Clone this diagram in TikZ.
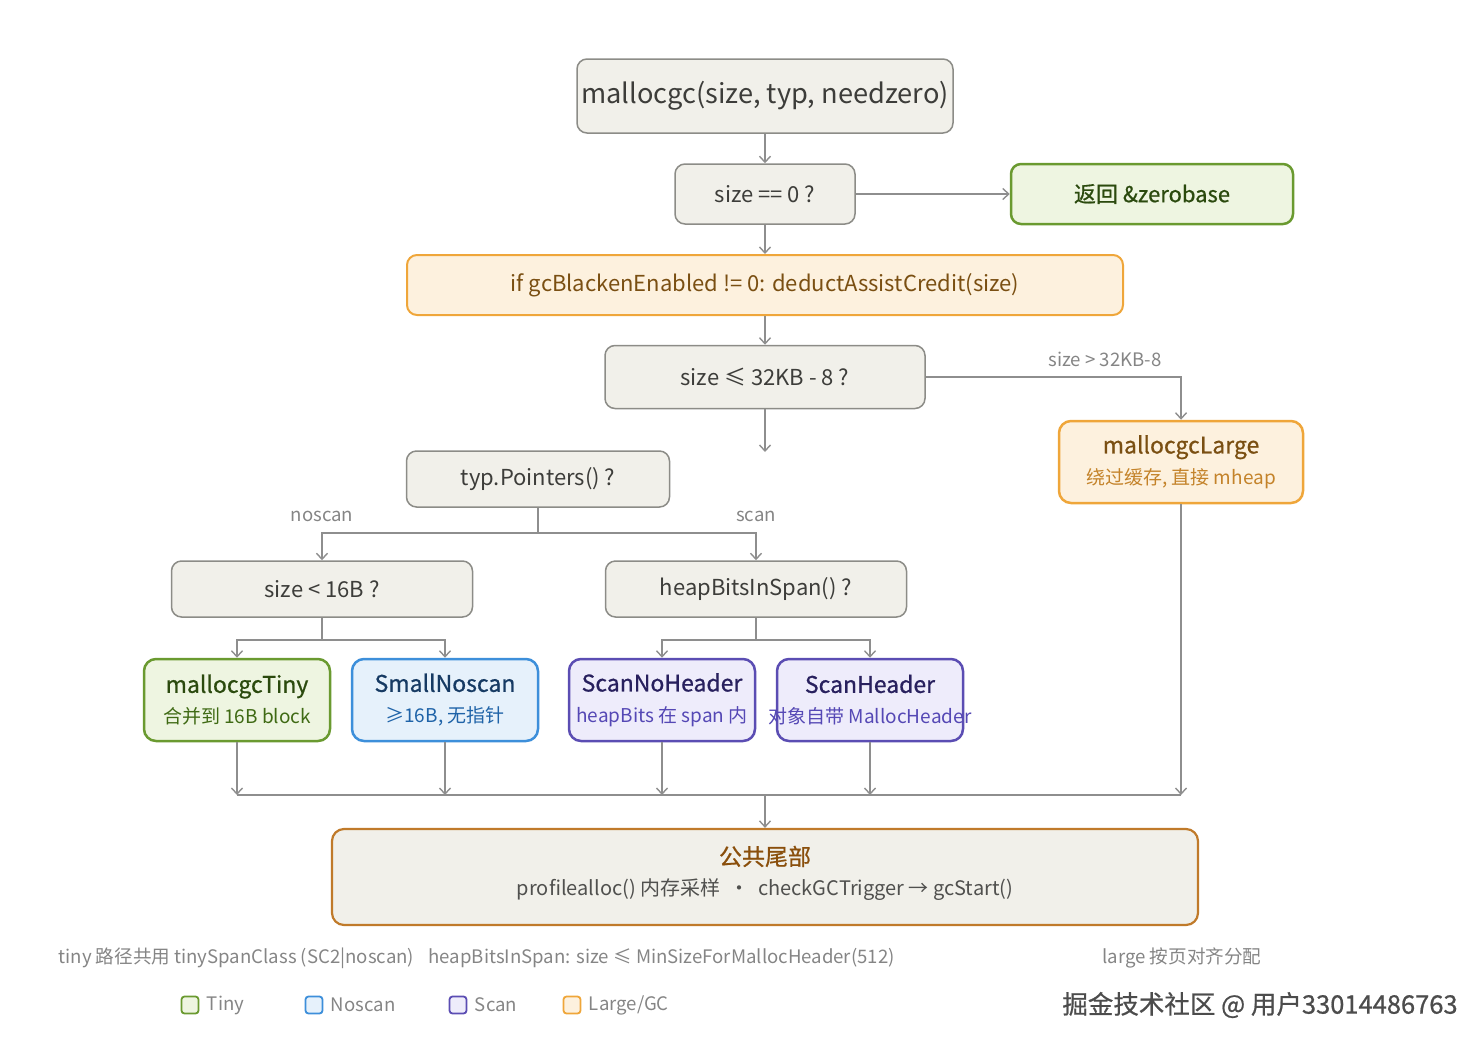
\documentclass[tikz,border=0pt]{standalone}
\usepackage{fontspec}
\setmainfont{Noto Sans CJK SC}
\newfontfamily\medfont{Noto Sans CJK SC}[FakeBold=0.7]
\usetikzlibrary{arrows.meta}

\definecolor{grayFill}{HTML}{F1F0EA}
\definecolor{grayLine}{HTML}{8C8C87}
\definecolor{grayText}{HTML}{3D3D3A}
\definecolor{connGray}{HTML}{8E8E8E}
\definecolor{noteGray}{HTML}{858585}
\definecolor{orangeFill}{HTML}{FDF1DE}
\definecolor{orangeLine}{HTML}{EFA63A}
\definecolor{orangeText}{HTML}{7A4F12}
\definecolor{orangeSub}{HTML}{C4832A}
\definecolor{greenFill}{HTML}{EEF5E1}
\definecolor{greenLine}{HTML}{6A9A30}
\definecolor{greenText}{HTML}{2B4A0E}
\definecolor{greenSub}{HTML}{3F6A14}
\definecolor{blueFill}{HTML}{E6F1FB}
\definecolor{blueLine}{HTML}{3D8FDA}
\definecolor{blueText}{HTML}{163A63}
\definecolor{blueSub}{HTML}{1F63A8}
\definecolor{purpleFill}{HTML}{EEECFB}
\definecolor{purpleLine}{HTML}{5B4DB3}
\definecolor{purpleText}{HTML}{28205E}
\definecolor{purpleSub}{HTML}{5548B5}
\definecolor{tailLine}{HTML}{C07A2A}
\definecolor{tailText}{HTML}{8A4F0C}

\tikzset{
  box/.style={draw=grayLine, fill=grayFill, rounded corners=10pt, line width=1.5pt,
    inner sep=0pt, text=grayText, font=\fontsize{22}{26}\selectfont},
  leaf/.style={rounded corners=12pt, line width=2.5pt, inner sep=0pt, align=center,
    minimum width=186pt, minimum height=82pt, font=\fontsize{19}{31}\selectfont},
  conn/.style={draw=connGray, line width=1.4pt, -{Straight Barb[length=6pt,width=11pt]}},
  wire/.style={draw=connGray, line width=1.4pt},
  note/.style={text=noteGray, font=\fontsize{18.6}{22}\selectfont},
  swatch/.style={rounded corners=3pt, line width=1.8pt, minimum size=17pt, inner sep=0pt}
}

\newcommand{\ttl}{\fontsize{23}{26}\selectfont\medfont}
\newcommand{\sub}{\fontsize{19}{22}\selectfont}

\begin{document}
\begin{tikzpicture}[x=1pt, y=-1pt]
\useasboundingbox (0,0) rectangle (1483,1047);

% top of the flow
\node[box, minimum width=376pt, minimum height=74pt, font=\fontsize{27.2}{32}\selectfont] (entry) at (765,96) {mallocgc(size, typ, needzero)};
\node[box, minimum width=180pt, minimum height=60pt] (zero) at (765,194) {size == 0 ?};
\node[box, draw=greenLine, fill=greenFill, line width=2.5pt, text=greenText, minimum width=282pt, minimum height=60pt, font=\fontsize{22}{26}\selectfont\medfont] (zerobase) at (1152,194) {返回 \&zerobase};
\node[box, draw=orangeLine, fill=orangeFill, line width=2pt, text=orangeText, minimum width=716pt, minimum height=60pt] (assist) at (765,285) {if gcBlackenEnabled != 0: deductAssistCredit(size)};
\node[box, minimum width=320pt, minimum height=63pt] (small) at (765,377) {size ≤ 32KB - 8 ?};
\coordinate (smallEnd) at (765,452);

% large path
\node[leaf, draw=orangeLine, fill=orangeFill, minimum width=244pt] (large) at (1181,462)
  {{\ttl\color{orangeText}mallocgcLarge}\\{\sub\color{orangeSub}绕过缓存, 直接 mheap}};

% size classes
\node[box, minimum width=263pt, minimum height=56pt] (ptrs) at (538,479) {typ.Pointers() ?};
\coordinate (ptrsJoin) at (538,533);
\node[box, minimum width=301pt, minimum height=56pt] (tiny16) at (322,589) {size < 16B ?};
\node[box, minimum width=301pt, minimum height=56pt] (hbits) at (756,589) {heapBitsInSpan() ?};
\coordinate (tinyJoin) at (322,640);
\coordinate (hbitsJoin) at (756,640);

\node[leaf, draw=greenLine, fill=greenFill] (tiny) at (237,700)
  {{\ttl\color{greenText}mallocgcTiny}\\{\sub\color{greenSub}合并到 16B block}};
\node[leaf, draw=blueLine, fill=blueFill] (noscan) at (445,700)
  {{\ttl\color{blueText}SmallNoscan}\\{\sub\color{blueSub}≥16B, 无指针}};
\node[leaf, draw=purpleLine, fill=purpleFill] (nohdr) at (662,700)
  {{\ttl\color{purpleText}ScanNoHeader}\\{\sub\color{purpleSub}heapBits 在 span 内}};
\node[leaf, draw=purpleLine, fill=purpleFill] (hdr) at (870,700)
  {{\ttl\color{purpleText}ScanHeader}\\{\sub\color{purpleSub}\makebox[160pt]{对象自带 MallocHeader}}};

% common tail
\coordinate (mTiny) at (237,795);
\coordinate (mNoscan) at (445,795);
\coordinate (mNohdr) at (662,795);
\coordinate (mHdr) at (870,795);
\coordinate (mLarge) at (1181,795);
\coordinate (mTail) at (765,795);
\node[leaf, draw=tailLine, fill=grayFill, line width=2.2pt, minimum width=866pt, minimum height=96pt] (tail) at (765,877) {};
\node[align=center, inner sep=0pt, font=\fontsize{20}{30}\selectfont] (tailLabel) at ([yshift=4pt]tail.center)
  {{\ttl\color{tailText}公共尾部}\\{\color{grayText!90}profilealloc() 内存采样 \ · \ checkGCTrigger → gcStart()}};

% connectors
\draw[conn] (entry) -- (zero);
\draw[conn] (zero) -- (zerobase);
\draw[conn] (zero) -- (assist);
\draw[conn] (assist) -- (small);
\draw[conn] (small) -- (smallEnd);
\draw[conn] (small.east) -| (large.north);
\draw (1105,359) node[note] {size > 32KB-8};

\draw[wire] (ptrs.south) -- (ptrsJoin);
\draw[conn] (ptrsJoin) -| (tiny16.north);
\draw[conn] (ptrsJoin) -| (hbits.north);
\draw (322,516) node[note] {noscan};
\draw (756,516) node[note] {scan};

\draw[wire] (tiny16.south) -- (tinyJoin);
\draw[conn] (tinyJoin) -| (tiny.north);
\draw[conn] (tinyJoin) -| (noscan.north);
\draw[wire] (hbits.south) -- (hbitsJoin);
\draw[conn] (hbitsJoin) -| (nohdr.north);
\draw[conn] (hbitsJoin) -| (hdr.north);

\draw[conn] (tiny.south) -- (mTiny);
\draw[conn] (noscan.south) -- (mNoscan);
\draw[conn] (nohdr.south) -- (mNohdr);
\draw[conn] (hdr.south) -- (mHdr);
\draw[conn] (large.south) -- (mLarge);
\draw[wire] (mTiny) -- (mLarge);
\draw[conn] (mTail) -- (tail.north);

% footnotes
\draw (55,958) node[note, anchor=west] (noteTiny) {tiny 路径共用 tinySpanClass (SC2|noscan)};
\draw (425,958) node[note, anchor=west] (noteHbits) {heapBitsInSpan: size ≤ MinSizeForMallocHeader(512)};
\draw (1099,958) node[note, anchor=west] (noteLarge) {large 按页对齐分配};

% legend
\node[swatch, draw=greenLine, fill=greenFill] (keyTiny) at (190,1005) {};
\node[note, anchor=west] at (keyTiny.east) {\hspace{4pt}Tiny};
\node[swatch, draw=blueLine, fill=blueFill] (keyNoscan) at (314,1005) {};
\node[note, anchor=west] at (keyNoscan.east) {\hspace{4pt}Noscan};
\node[swatch, draw=purpleLine, fill=purpleFill] (keyScan) at (458,1005) {};
\node[note, anchor=west] at (keyScan.east) {\hspace{4pt}Scan};
\node[swatch, draw=orangeLine, fill=orangeFill] (keyLarge) at (572,1005) {};
\node[note, anchor=west] at (keyLarge.east) {\hspace{4pt}Large/GC};

\draw (1260,1005) node[text=black!70, font=\fontsize{25.5}{30}\selectfont\medfont] (mark) {掘金技术社区 @ 用户33014486763};
\end{tikzpicture}
\end{document}
